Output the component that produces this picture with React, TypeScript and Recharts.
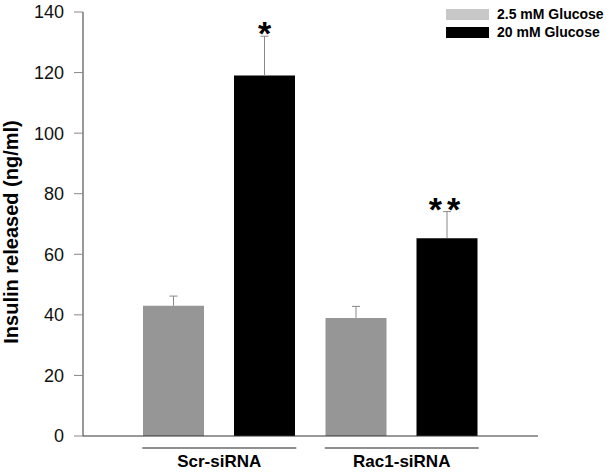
import React from 'react';
import { BarChart, Bar, XAxis, YAxis, LabelList } from 'recharts';

const groups = ['Scr-siRNA', 'Rac1-siRNA'];
const lowGlucose = [43, 39];
const lowGlucoseErr = [3.2, 3.8];
const highGlucose = [119, 65.3];
const highGlucoseErr = [13, 8.8];
const highGlucoseSig = ['*', '**'];
const yTicks = [0, 20, 40, 60, 80, 100, 120, 140];

const data = groups.map((g, i) => ({
  group: g,
  low: lowGlucose[i],
  high: highGlucose[i],
  sig: highGlucoseSig[i],
}));

const FONT = '"Liberation Sans", Arial, sans-serif';

const GroupTick = (props: any) => {
  const { x, y, payload } = props;
  return (
    <g>
      <line x1={x - 77} x2={x + 77} y1={y + 12} y2={y + 12} stroke="#222" strokeWidth={1.2} />
      <text x={x} y={y + 31} textAnchor="middle" fontSize={17} fontWeight="bold" fill="#000" fontFamily={FONT}>
        {payload.value}
      </text>
    </g>
  );
};

// one-sided (upper) error bar, plus optional significance stars
const makeUpperErr = (values: number[], errs: number[], withSig: boolean) => (props: any) => {
  const { x, y, width, height, value, index } = props;
  const cx = x + width / 2;
  const errTop = y - (errs[index] * height) / values[index];
  return (
    <g>
      <line x1={cx} x2={cx} y1={y} y2={errTop} stroke="#888" strokeWidth={1} />
      <line x1={cx - 4} x2={cx + 4} y1={errTop} y2={errTop} stroke="#888" strokeWidth={1} />
      {withSig && value ? (
        <text x={cx} y={errTop + 9} textAnchor="middle" fontSize={34} fontWeight="bold" fill="#000" fontFamily={FONT} letterSpacing={value.length > 1 ? 5 : 0}>
          {value}
        </text>
      ) : null}
    </g>
  );
};

const LowErr = makeUpperErr(lowGlucose, lowGlucoseErr, false);
const HighErr = makeUpperErr(highGlucose, highGlucoseErr, true);

const LegendBox = () => (
  <div style={{ position: 'absolute', top: 6, left: 446, fontFamily: FONT, fontSize: 14, fontWeight: 'bold', lineHeight: '17.5px' }}>
    {[['#c8c8c8', '2.5 mM Glucose'], ['#000', '20 mM Glucose']].map(([c, t]) => (
      <div key={t} style={{ display: 'flex', alignItems: 'center' }}>
        <span style={{ display: 'inline-block', width: 43, height: 11, background: c, marginRight: 8 }} />
        <span>{t}</span>
      </div>
    ))}
  </div>
);

export default function App() {
  return (
    <div style={{ position: 'absolute', left: 0, top: 0, width: 612, height: 473, background: '#fff' }}>
      <BarChart width={612} height={473} data={data} margin={{ top: 12, right: 74, bottom: 0, left: 0 }} barSize={61} barGap={30} style={{ fontFamily: FONT }}>
        <XAxis dataKey="group" height={37} padding={{ left: 45, right: 45 }} axisLine={{ stroke: '#333' }} tickLine={false} tickSize={0} tickMargin={0} tick={<GroupTick />} interval={0} />
        <YAxis width={83} domain={[0, 140]} ticks={yTicks} interval={0} axisLine={{ stroke: '#333' }} tickLine={{ stroke: '#888' }} tickSize={9} tickMargin={10} tick={{ fill: '#111', fontSize: 18, fontFamily: FONT }} label={{ value: 'Insulin released (ng/ml)', angle: -90, position: 'insideLeft', dx: 6, dy: 8, style: { textAnchor: 'middle', fontSize: 20, fontWeight: 'bold', fill: '#000', fontFamily: FONT } }} />
        <Bar dataKey="low" fill="#969696" isAnimationActive={false}>
          <LabelList dataKey="low" content={LowErr} />
        </Bar>
        <Bar dataKey="high" fill="#000" isAnimationActive={false}>
          <LabelList dataKey="sig" content={HighErr} />
        </Bar>
      </BarChart>
      <LegendBox />
    </div>
  );
}
